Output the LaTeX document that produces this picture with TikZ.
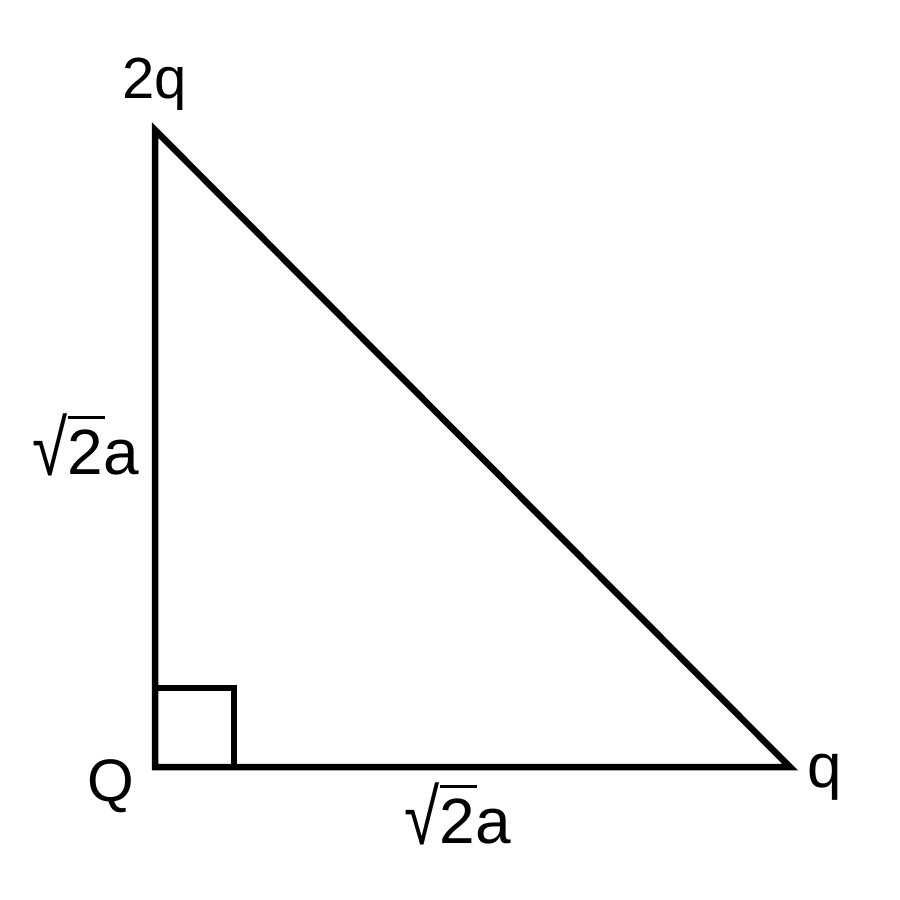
\documentclass[tikz,border=0pt]{standalone}
\usepackage{fontspec}
\setmainfont{Liberation Sans}
\newcommand\myrad[1]{\raisebox{-0.03em}{\scalebox{1}[1.22]{√}}\rlap{\rule[0.86em]{0.58em}{0.05em}}#1}
\begin{document}
\begin{tikzpicture}[x=1pt,y=-1pt,
  edge/.style={line width=6.5pt,line join=miter},
  lbl/.style={anchor=base,inner sep=0pt,font=\fontsize{62}{70}\selectfont},
  side/.style={anchor=base,inner sep=0pt,font=\fontsize{64}{72}\selectfont}]
\useasboundingbox (0,0) rectangle (900,900);
\coordinate (T) at (155,130);
\coordinate (O) at (155,767);
\coordinate (R) at (790,767);
\coordinate (S1) at (155,688);
\coordinate (S2) at (234,688);
\coordinate (S3) at (234,767);
\draw[edge] (T) -- (O) -- (R) -- cycle;
\draw[line width=5.5pt,line join=miter] (S1) -- (S2) -- (S3);
\node[lbl,font=\fontsize{58}{66}\selectfont] (lt) at (155,98) {2q};
\node[lbl,font=\fontsize{60}{70}\selectfont] (lq) at (111,801) {Q};
\node[lbl] (lr) at (825,787) {q};
\node[side] (sl) at (86,474) {\myrad{2}a};
\node[side] (sb) at (458,843) {\myrad{2}a};
\end{tikzpicture}
\end{document}
